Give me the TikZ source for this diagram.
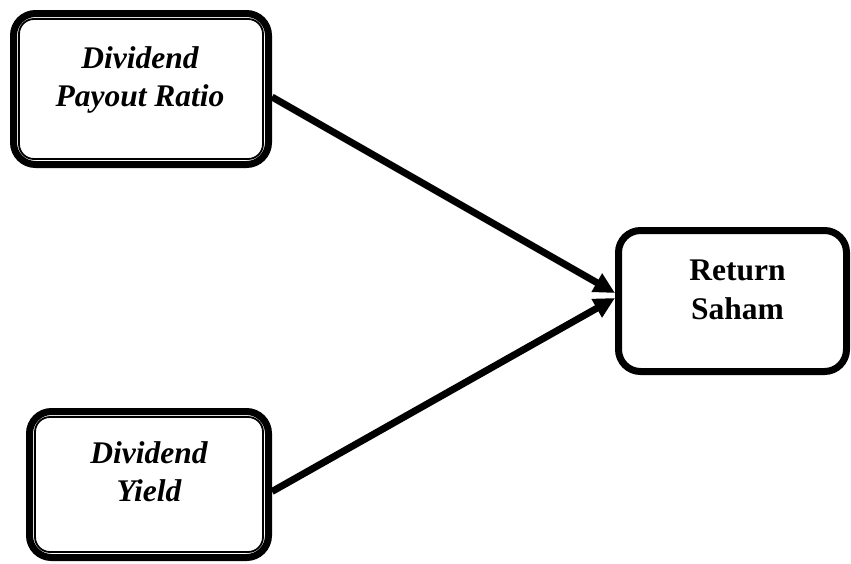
\documentclass[tikz,border=0pt]{standalone}
\usepackage{fontspec}
\setmainfont{Liberation Serif}
\usetikzlibrary{arrows.meta}
\tikzset{
  dbox/.style={draw, line width=7pt, rounded corners=22pt, inner sep=0pt, fill=white},
  innerline/.style={draw, line width=1.8pt, rounded corners=15pt},
  sbox/.style={draw, line width=7pt, rounded corners=22pt, inner sep=0pt, fill=white},
  itxt/.style={align=center, font=\fontsize{31.5}{38}\selectfont\bfseries\itshape},
  btxt/.style={align=center, font=\fontsize{31.5}{39}\selectfont\bfseries},
  conn/.style={line width=7pt, -{Triangle[length=21pt,width=20pt]}}
}
\begin{document}
\begin{tikzpicture}[x=1pt,y=1pt]
\useasboundingbox (0,0) rectangle (851,-563);
% top box
\node[dbox, minimum width=255pt, minimum height=151pt] (a) at (141,-89) {};
\draw[innerline] ([shift={(9,-9)}]a.north west) rectangle ([shift={(-9,9)}]a.south east);
\node[itxt] (at) at ([xshift=-1,yshift=9]a.center) {Dividend\\Payout Ratio};
% bottom box
\node[dbox, minimum width=239pt, minimum height=146pt] (b) at (149,-484.5) {};
\draw[innerline] ([shift={(9,-9)}]b.north west) rectangle ([shift={(-9,9)}]b.south east);
\node[itxt] (bt) at ([yshift=13]b.center) {Dividend\\Yield};
% right box
\node[sbox, minimum width=228pt, minimum height=141pt] (c) at (732.5,-301) {};
\node[btxt] (ct) at ([xshift=5,yshift=11]c.center) {Return\\Saham};
% connectors
\draw[conn] ([yshift=-8]a.east) -- ([yshift=8]c.west);
\draw[conn] ([yshift=-7]b.east) -- ([yshift=3]c.west);
\end{tikzpicture}
\end{document}
